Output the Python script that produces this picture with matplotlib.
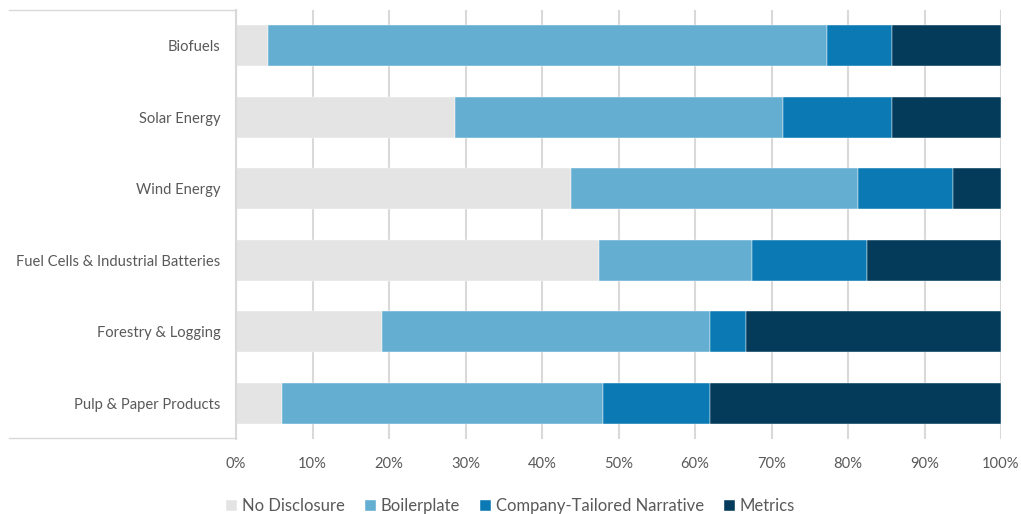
import matplotlib.pyplot as plt
import matplotlib.lines as mlines
import numpy as np

plt.rcParams['font.family'] = ['Lato', 'DejaVu Sans']

categories = ['Biofuels', 'Solar Energy', 'Wind Energy',
              'Fuel Cells & Industrial Batteries', 'Forestry & Logging',
              'Pulp & Paper Products']
no_disclosure = [4.2, 28.6, 43.75, 47.5, 19.05, 6.0]
boilerplate = [73.0, 42.85, 37.5, 20.0, 42.85, 42.0]
tailored = [8.5, 14.3, 12.5, 15.0, 4.75, 14.0]
metrics = [14.3, 14.25, 6.25, 17.5, 33.35, 38.0]

series = [
    ('No Disclosure', no_disclosure, '#e4e4e4'),
    ('Boilerplate', boilerplate, '#63aed1'),
    ('Company-Tailored Narrative', tailored, '#0b7ab4'),
    ('Metrics', metrics, '#043b5a'),
]

fig = plt.figure(figsize=(10.21, 5.14), dpi=100)
ax = fig.add_axes([236 / 1021, 1 - 439 / 514, 765 / 1021, 429 / 514])

y = np.arange(len(categories))
left = np.zeros(len(categories))
for name, vals, color in series:
    vals = np.array(vals)
    ax.barh(y, vals, left=left, height=0.567, color=color, label=name,
            edgecolor='white', linewidth=0.3, zorder=2)
    left += vals

ax.set_xlim(0, 100)
ax.set_ylim(len(categories) - 0.5, -0.5)
ax.set_yticks(y)
ax.set_yticklabels(categories)
ax.set_xticks(np.arange(0, 101, 10))
ax.set_xticklabels([f'{v}%' for v in range(0, 101, 10)])
ax.tick_params(axis='both', length=0, colors='#595959', labelsize=10.6)
ax.tick_params(axis='x', pad=13)
ax.tick_params(axis='y', pad=11)
ax.grid(axis='x', color='#d9d9d9', linewidth=1.5, zorder=0)
ax.set_axisbelow(True)
for s in ['top', 'right', 'bottom']:
    ax.spines[s].set_visible(False)
ax.spines['left'].set_color('#d9d9d9')
ax.spines['left'].set_linewidth(1.5)

# light frame around the category label area
fig.add_artist(mlines.Line2D([9 / 1021, 236 / 1021], [1 - 10 / 514, 1 - 10 / 514],
                             color='#d9d9d9', linewidth=1))
fig.add_artist(mlines.Line2D([9 / 1021, 236 / 1021], [1 - 438 / 514, 1 - 438 / 514],
                             color='#d9d9d9', linewidth=1))

fig.legend(loc='center', bbox_to_anchor=(0.5, 1 - 506 / 514), ncol=4,
           frameon=False, fontsize=12, labelcolor='#595959',
           handlelength=0.65, handleheight=0.65, handletextpad=0.3,
           columnspacing=1.2)

fig.savefig('out.png', dpi=100)
